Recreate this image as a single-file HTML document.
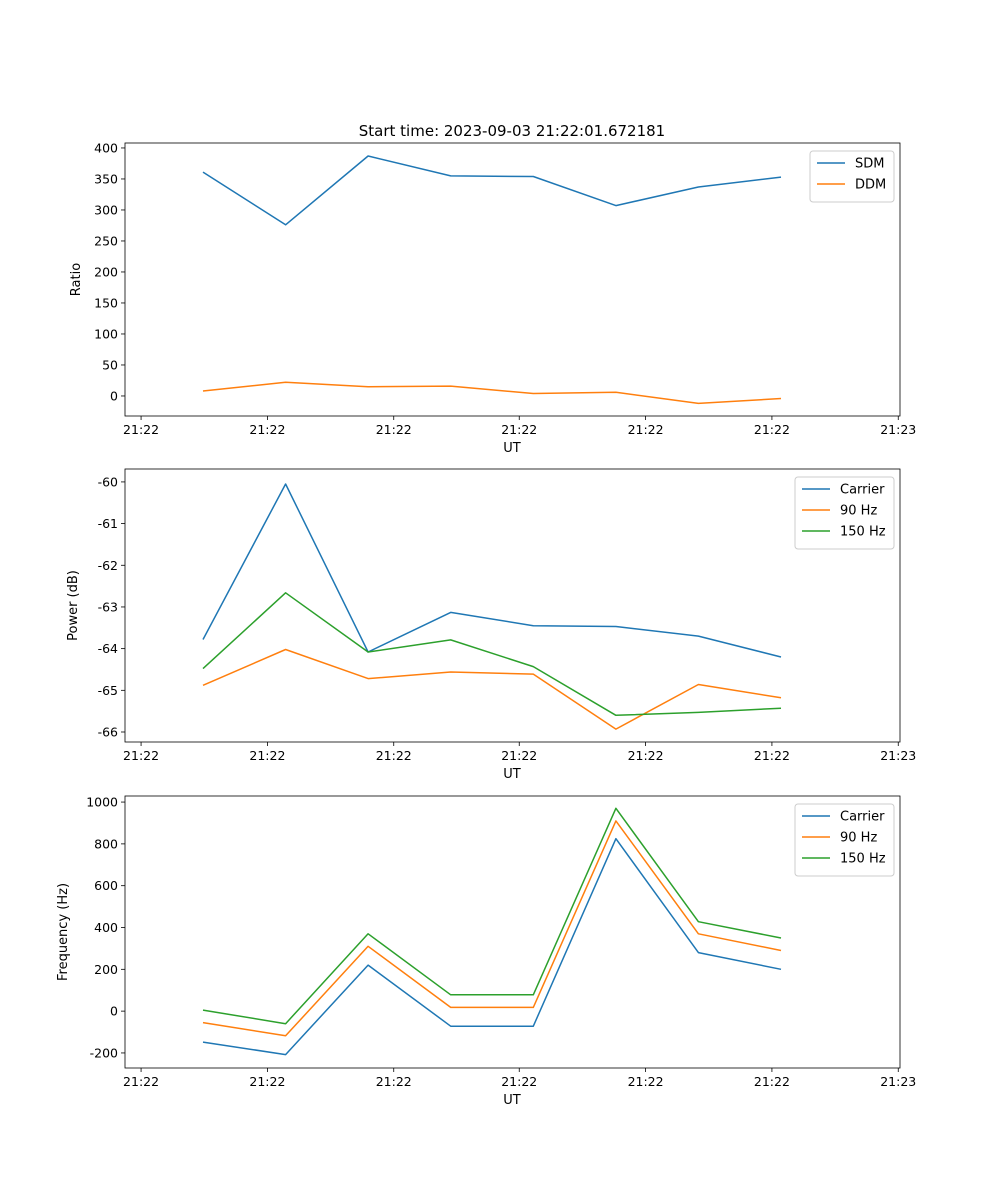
<!DOCTYPE html>
<html><head><meta charset="utf-8"><style>
html,body{margin:0;padding:0;background:#fff;}
svg{display:block;font-family:"DejaVu Sans","Liberation Sans",sans-serif;}
</style></head><body>
<svg id="fig" width="1000" height="1200" viewBox="0 0 1000 1200">
<text x="512" y="136" font-size="15" text-anchor="middle">Start time: 2023-09-03 21:22:01.672181</text>
</svg>
<script>
const xIndex = [0,1,2,3,4,5,6,7];
const xTickPos = [-0.75,0.78,2.31,3.83,5.36,6.89,8.42];
const xTickLabels = ["21:22","21:22","21:22","21:22","21:22","21:22","21:23"];
const sdm = [361,276,387,355,354,307,337,353];
const ddm = [8,22,15,16,4,6,-12,-4];
const pCarrier = [-63.78,-60.05,-64.08,-63.13,-63.45,-63.47,-63.7,-64.2];
const p90 = [-64.88,-64.02,-64.72,-64.56,-64.61,-65.93,-64.86,-65.18];
const p150 = [-64.48,-62.66,-64.08,-63.79,-64.43,-65.6,-65.53,-65.43];
const fCarrier = [-148,-208,220,-72,-72,825,280,200];
const f90 = [-55,-118,310,18,18,910,370,290];
const f150 = [5,-60,370,78,78,970,428,350];
const ticks1 = [0,50,100,150,200,250,300,350,400];
const ticks2 = [-66,-65,-64,-63,-62,-61,-60];
const ticks3 = [-200,0,200,400,600,800,1000];

const NS="http://www.w3.org/2000/svg";
const svg=document.getElementById('fig');
function mk(tag,attrs,parent){const e=document.createElementNS(NS,tag);for(const k in attrs)e.setAttribute(k,attrs[k]);(parent||svg).appendChild(e);return e;}
const L=125,R=900;
const xs=i=>203+(i)*(781-203)/7;

function panel(name,top,bot,ymin,ymax,yticks,ylabel,series,legend){
  const g=mk('g',{});
  
  
  const ys=v=>bot-(v-ymin)/(ymax-ymin)*(bot-top);
  series.forEach(s=>{
    const pts=s.vals.map((v,i)=>xs(xIndex[i]).toFixed(1)+','+ys(v).toFixed(1)).join(' ');
    const pl=mk('polyline',{points:pts,fill:'none',stroke:s.color,'stroke-width':1.5,'stroke-linejoin':'round'},g);
    
    
  });
  const fr=mk('rect',{x:L,y:top,width:R-L,height:bot-top,fill:'none',stroke:'#000','stroke-width':0.8},g);
  
  
  xTickPos.forEach((t,i)=>{
    const x=xs(t);
    mk('line',{x1:x,x2:x,y1:bot,y2:bot+4,stroke:'#000','stroke-width':0.8},g);
    const tx=mk('text',{x:x,y:bot+18,'font-size':12.5,'text-anchor':'middle'},g);
    tx.textContent=xTickLabels[i];
    
    
  });
  yticks.forEach(t=>{
    const y=ys(t);
    mk('line',{x1:L-4,x2:L,y1:y,y2:y,stroke:'#000','stroke-width':0.8},g);
    const tx=mk('text',{x:L-7,y:y+4.5,'font-size':12.5,'text-anchor':'end'},g);
    tx.textContent=t;
    
    
  });
  const xl=mk('text',{x:512,y:bot+36,'font-size':13,'text-anchor':'middle'},g);
  xl.textContent='UT';
  
  
  const yl=mk('text',{x:0,y:0,'font-size':13,'text-anchor':'middle',transform:`translate(${legend.ylx},${(top+bot)/2}) rotate(-90)`},g);
  yl.textContent=ylabel;
  
  
  const lg=mk('g',{},g);
  
  
  mk('rect',{x:legend.x,y:top+8,width:R-6-legend.x,height:series.length*21+9,rx:3,fill:'#fff',stroke:'#ccc','stroke-width':1},lg);
  series.forEach((s,i)=>{
    const y=top+20+i*21;
    mk('line',{x1:legend.x+7,x2:legend.x+35,y1:y,y2:y,stroke:s.color,'stroke-width':1.5},lg);
    const t=mk('text',{x:legend.x+45,y:y+4.5,'font-size':13},lg);
    t.textContent=s.label;
    
    
  });
}
const C1='#1f77b4',C2='#ff7f0e',C3='#2ca02c';
panel('ratio-panel',143,416,-32.3,408,ticks1,'Ratio',
  [{id:'sdm-line',vals:sdm,color:C1,label:'SDM'},{id:'ddm-line',vals:ddm,color:C2,label:'DDM'}],{x:810,ylx:80});
panel('power-panel',469,742,-66.24,-59.69,ticks2,'Power (dB)',
  [{id:'carrier-power-line',vals:pCarrier,color:C1,label:'Carrier'},{id:'90hz-power-line',vals:p90,color:C2,label:'90 Hz'},{id:'150hz-power-line',vals:p150,color:C3,label:'150 Hz'}],{x:795,ylx:77});
panel('frequency-panel',796,1068,-272,1029,ticks3,'Frequency (Hz)',
  [{id:'carrier-freq-line',vals:fCarrier,color:C1,label:'Carrier'},{id:'90hz-freq-line',vals:f90,color:C2,label:'90 Hz'},{id:'150hz-freq-line',vals:f150,color:C3,label:'150 Hz'}],{x:795,ylx:67});
</script>
</body></html>
